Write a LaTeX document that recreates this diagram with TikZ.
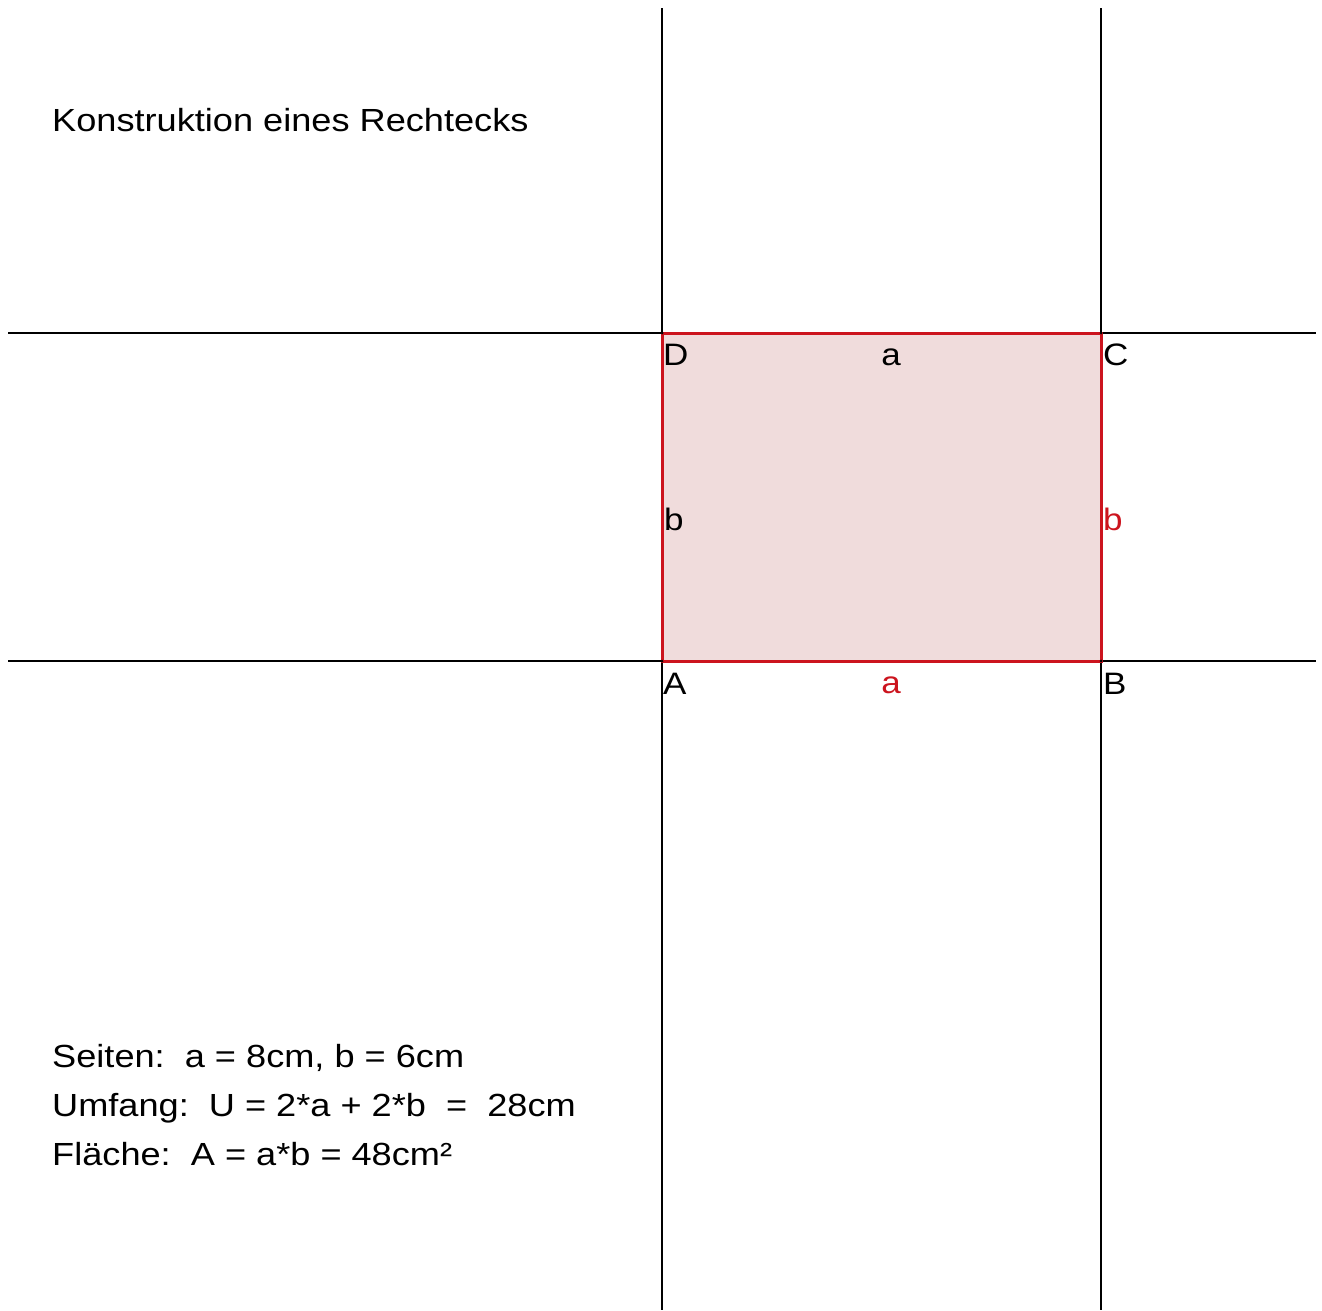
\documentclass[tikz,border=0pt]{standalone}
\usepackage{fontspec}
\setmainfont[FakeStretch=1.13]{Liberation Sans}
\begin{document}
\begin{tikzpicture}[x=1pt,y=-1pt,
  txt/.style={font=\fontsize{32}{49}\selectfont, inner sep=0pt, anchor=base west},
  lbl/.style={font=\fontsize{31}{36}\selectfont, inner sep=0pt},
  cline/.style={line width=1.6pt, black},
  side/.style={line width=3pt, draw=redside},
  pt/.style={circle, fill=black, inner sep=0pt, minimum size=3pt}]
\definecolor{redside}{RGB}{204,20,30}
\definecolor{fillpink}{RGB}{240,220,220}
\useasboundingbox (0,0) rectangle (1322,1310);
\fill[white] (0,0) rectangle (1322,1310);
% points
\coordinate (A) at (662,661);
\coordinate (B) at (1101,661);
\coordinate (C) at (1101,333);
\coordinate (D) at (662,333);
% construction lines
\coordinate (vAt) at (662,8);   \coordinate (vAb) at (662,1310);
\coordinate (vBt) at (1101,8);  \coordinate (vBb) at (1101,1310);
\coordinate (hDl) at (8,333);   \coordinate (hDr) at (1316,333);
\coordinate (hAl) at (8,661);   \coordinate (hAr) at (1316,661);
\draw[cline] (vAt) -- (vAb);
\draw[cline] (vBt) -- (vBb);
\draw[cline] (hDl) -- (hDr);
\draw[cline] (hAl) -- (hAr);
% rectangle
\fill[fillpink] (A) rectangle (C);
\draw[side] (A) -- (B) -- (C) -- (D) -- cycle;
\node[pt] (pA) at (A) {};
\node[pt] (pB) at (B) {};
\node[pt] (pC) at (C) {};
\node[pt] (pD) at (D) {};
% labels
\node[lbl, anchor=west] (lD) at (663,355) {D};
\node[lbl, anchor=west] (lC) at (1103,355) {C};
\node[lbl, anchor=west] (lA) at (663,684) {A};
\node[lbl, anchor=west] (lB) at (1103,684) {B};
\node[lbl] (la1) at (891,357) {a};
\node[lbl, text=redside] (la2) at (891,685) {a};
\node[lbl, anchor=west] (lb1) at (664,519) {b};
\node[lbl, anchor=west, text=redside] (lb2) at (1103,519) {b};
% texts
\node[txt] (title) at (52,131) {Konstruktion eines Rechtecks};
\node[txt] (t1) at (52,1067) {Seiten:\ \ a = 8cm, b = 6cm};
\node[txt] (t2) at (52,1116) {Umfang:\ \ U = 2*a + 2*b\ \ =\ \ 28cm};
\node[txt] (t3) at (52,1165) {Fläche:\ \ A = a*b = 48cm²};
\end{tikzpicture}
\end{document}
